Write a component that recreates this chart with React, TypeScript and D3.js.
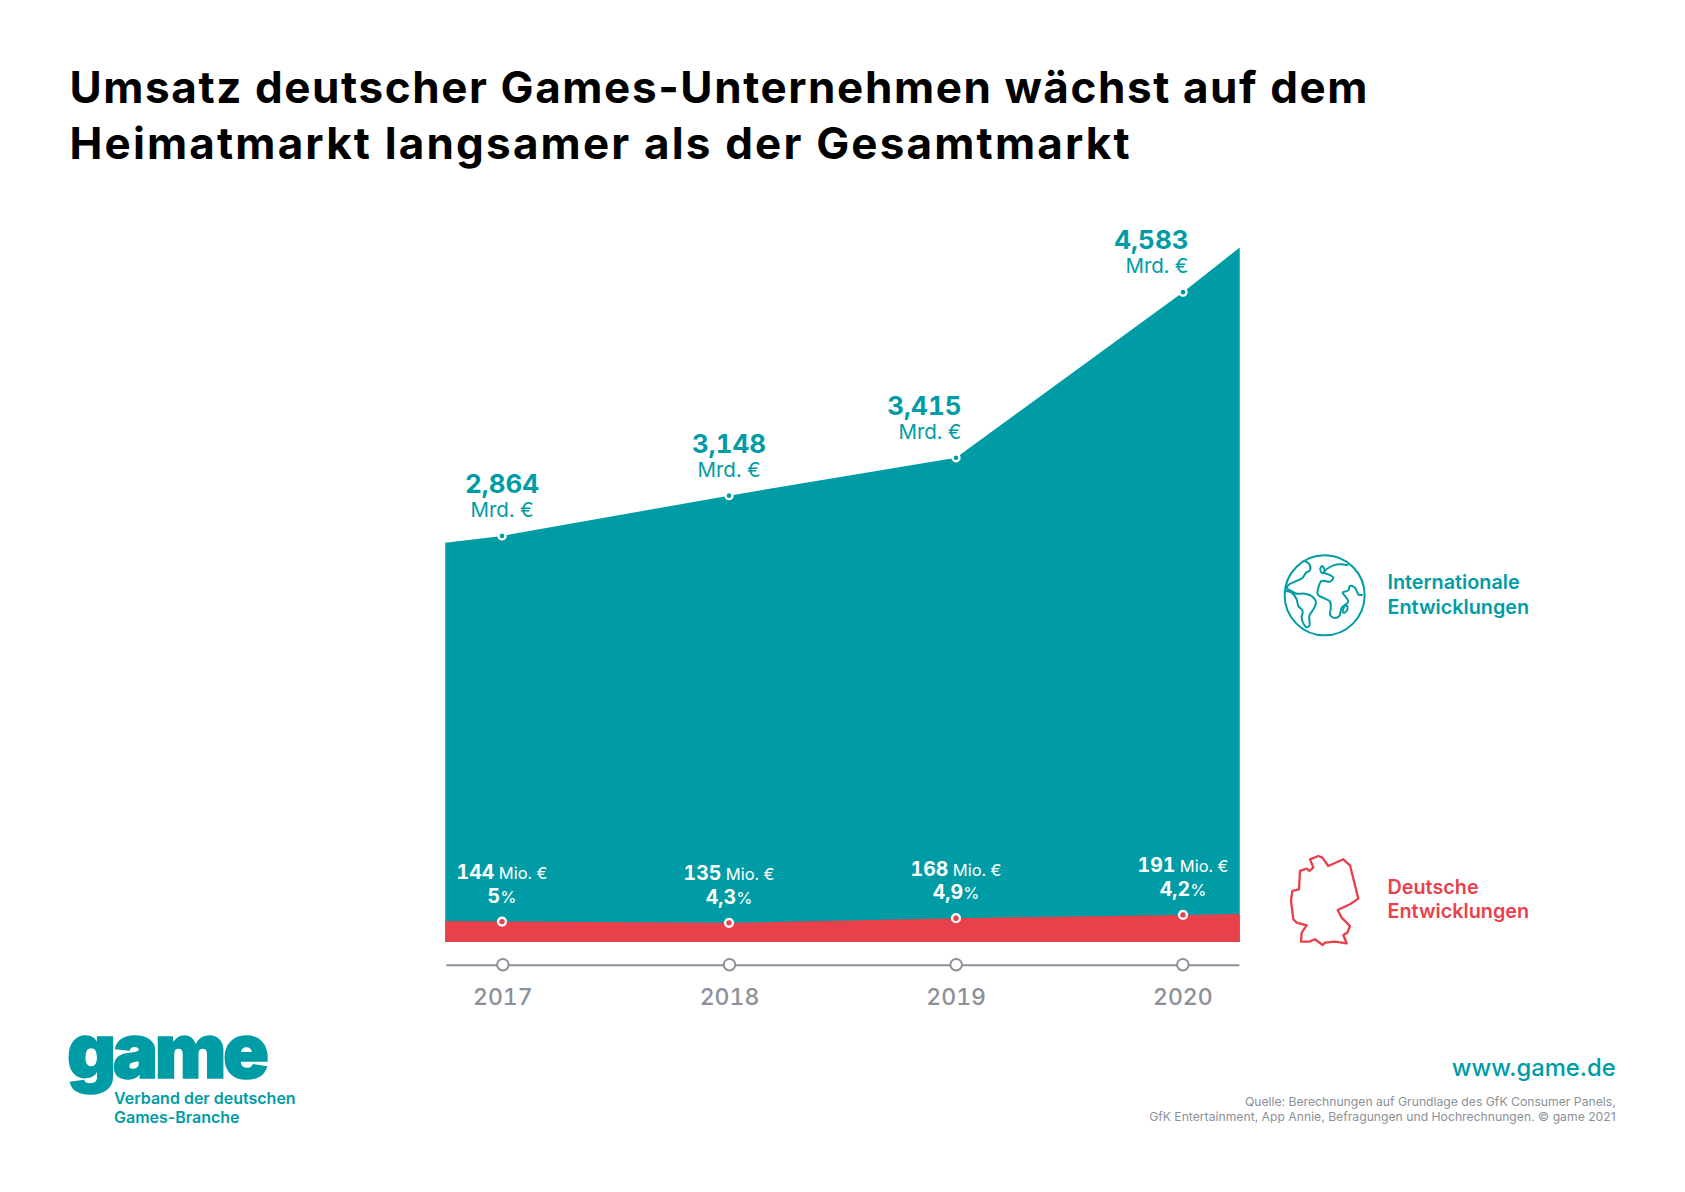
import { useRef, useEffect } from "react";
import * as d3 from "d3";

const years = [2017, 2018, 2019, 2020];
const totalMrd = [2.864, 3.148, 3.415, 4.583];
const domesticMio = [144, 135, 168, 191];
const domesticShare = ["5", "4,3", "4,9", "4,2"];

// the areas run past the first and last year
const edgeYears = [2016.75, 2020.25];
const totalEdgeMrd = [2.816, 4.898];
const domesticEdgeMio = [148, 198];

const titleLines = [
    "Umsatz deutscher Games-Unternehmen wächst auf dem",
    "Heimatmarkt langsamer als der Gesamtmarkt",
];
const legendInternational = ["Internationale", "Entwicklungen"];
const legendGermany = ["Deutsche", "Entwicklungen"];
const logoLines = ["Verband der deutschen", "Games-Branche"];
const sourceLines = [
    "Quelle: Berechnungen auf Grundlage des GfK Consumer Panels,",
    "GfK Entertainment, App Annie, Befragungen und Hochrechnungen. © game 2021",
];

// icon outlines, traced at 3x
const globeCoasts: [number, number][][] = [
    [[160, 88], [178, 100], [180, 118], [168, 125], [158, 140], [135, 152], [118, 160], [110, 172], [120, 178], [140, 188], [165, 188], [185, 195], [198, 215], [190, 235], [178, 255], [178, 285], [168, 288], [155, 262], [158, 240], [145, 225], [140, 205], [125, 185], [107, 180]],
    [[295, 103], [265, 100], [240, 108], [222, 125], [235, 130], [250, 140], [240, 152], [215, 150], [205, 170], [203, 190], [218, 200], [240, 212], [242, 235], [240, 250], [250, 260], [268, 255], [275, 230], [295, 212], [285, 195], [278, 185], [295, 178], [300, 165], [315, 170], [325, 190], [338, 192]],
    [[210, 115], [216, 105], [224, 118], [217, 127], [210, 115]],
    [[278, 240], [285, 225], [292, 225], [290, 240], [280, 245], [278, 240]],
];
const germanyOutline: [number, number][] = [
    [180, 985], [205, 975], [217, 980], [235, 1005], [280, 985], [300, 1003], [325, 1103], [300, 1120], [263, 1137], [275, 1160], [300, 1185], [292, 1205], [280, 1212], [290, 1237], [255, 1232], [225, 1235], [218, 1242], [195, 1225], [178, 1232], [153, 1232], [155, 1205], [170, 1183], [140, 1175], [130, 1165], [123, 1110], [127, 1080], [147, 1075], [150, 1020], [170, 1013], [178, 1020], [190, 1010],
];

const TEAL = "#009ca6";
const RED = "#e8414b";
const GREY = "#8b9099";
const FONT = "Inter, sans-serif";

export default function App() {
    const svgRef = useRef<SVGSVGElement>(null);

    useEffect(() => {
        if (!svgRef.current) return;

        const svg = d3.select(svgRef.current);
        svg.selectAll("*").remove();
        svg.attr("font-family", FONT);

        const x = d3.scaleLinear().domain([2017, 2020]).range([502, 1183]);
        const y = d3.scaleLinear().domain([0, 4.9]).range([942, 247.2]);

        const totalSeries: [number, number][] = [
            [edgeYears[0], totalEdgeMrd[0]],
            ...years.map((yr, i): [number, number] => [yr, totalMrd[i]]),
            [edgeYears[1], totalEdgeMrd[1]],
        ];
        const domesticSeries: [number, number][] = [
            [edgeYears[0], domesticEdgeMio[0] / 1000],
            ...years.map((yr, i): [number, number] => [yr, domesticMio[i] / 1000]),
            [edgeYears[1], domesticEdgeMio[1] / 1000],
        ];
        const area = d3
            .area<[number, number]>()
            .x((d) => x(d[0]))
            .y0(y(0))
            .y1((d) => y(d[1]));

        svg.append("path").attr("d", area(totalSeries)).attr("fill", TEAL);
        svg.append("path").attr("d", area(domesticSeries)).attr("fill", RED);

        // title
        svg.selectAll(".title")
            .data(titleLines)
            .enter()
            .append("text")
            .attr("class", "title")
            .attr("x", 69.5)
            .attr("y", (_, i) => 102.7 + i * 56.6)
            .attr("font-size", 44)
            .attr("font-weight", 700)
            .attr("fill", "#000")
            .attr("textLength", (_, i) => (i === 0 ? 1298 : 1060))
            .text((d) => d);

        // axis
        const axis = svg
            .append("g")
            .attr("transform", "translate(0,964.7)")
            .call(
                d3
                    .axisBottom(x.copy().domain(edgeYears).range([445.7, 1239]))
                    .tickValues(years)
                    .tickFormat(d3.format("d"))
                    .tickSize(0)
                    .tickPadding(24),
            );
        axis.select(".domain").attr("stroke", GREY).attr("stroke-width", 2);
        axis.selectAll(".tick text")
            .attr("font-family", FONT)
            .attr("font-size", 23)
            .attr("font-weight", 500)
            .attr("fill", GREY)
            .style("font-variant-numeric", "tabular-nums");
        axis.selectAll(".tick")
            .append("circle")
            .attr("r", 5.8)
            .attr("fill", "#fff")
            .attr("stroke", GREY)
            .attr("stroke-width", 2);

        // dots
        const dots = (vals: number[], color: string, rad: number) =>
            svg
                .append("g")
                .selectAll("circle")
                .data(vals)
                .enter()
                .append("circle")
                .attr("cx", (_, i) => x(years[i]))
                .attr("cy", (d) => y(d))
                .attr("r", rad)
                .attr("fill", color)
                .attr("stroke", "#fff")
                .attr("stroke-width", 2.4);
        dots(totalMrd, TEAL, 3.5);
        dots(domesticMio.map((d) => d / 1000), RED, 3.9);

        // total labels, the last two are pulled left of their dots
        const labelX = (i: number) => x(years[i]) + (i >= 2 ? 5.5 : 0);
        const labelAnchor = (i: number) => (i >= 2 ? "end" : "middle");
        const totals = svg
            .append("g")
            .attr("fill", TEAL)
            .style("font-variant-numeric", "tabular-nums");
        totalMrd.forEach((v, i) => {
            totals
                .append("text")
                .attr("x", labelX(i))
                .attr("y", y(v) - 43)
                .attr("text-anchor", labelAnchor(i))
                .attr("font-size", 26)
                .attr("font-weight", 700)
                .text(v.toFixed(3).replace(".", ","));
            totals
                .append("text")
                .attr("x", labelX(i))
                .attr("y", y(v) - 19)
                .attr("text-anchor", labelAnchor(i))
                .attr("font-size", 20.5)
                .text("Mrd. €");
        });

        // domestic labels
        const inner = svg
            .append("g")
            .attr("fill", "#fff")
            .attr("text-anchor", "middle")
            .style("font-variant-numeric", "tabular-nums");
        domesticMio.forEach((v, i) => {
            const yy = y(v / 1000);
            const top = inner
                .append("text")
                .attr("x", x(years[i]))
                .attr("y", yy - 42.5)
                .attr("font-size", 16.5);
            top.append("tspan").attr("font-size", 19.5).attr("font-weight", 700).text(v);
            top.append("tspan").text(" Mio. €");
            const bottom = inner
                .append("text")
                .attr("x", x(years[i]))
                .attr("y", yy - 19)
                .attr("font-size", 16.5);
            bottom
                .append("tspan")
                .attr("font-size", 19.5)
                .attr("font-weight", 700)
                .text(domesticShare[i]);
            bottom.append("tspan").text("%");
        });

        // legend
        const legend = (lines: string[], top: number, color: string) =>
            lines.forEach((line, i) => {
                svg.append("text")
                    .attr("x", 1387.5)
                    .attr("y", top + i * 24.2)
                    .attr("font-size", 19.8)
                    .attr("font-weight", 600)
                    .attr("fill", color)
                    .text(line);
            });
        legend(legendInternational, 589.3, TEAL);
        legend(legendGermany, 894, RED);

        const icon = (color: string) =>
            svg
                .append("g")
                .attr("transform", "translate(1250,531) scale(0.3333)")
                .attr("fill", "none")
                .attr("stroke", color)
                .attr("stroke-width", 6)
                .attr("stroke-linejoin", "round");
        const globe = icon(TEAL);
        globe.append("circle").attr("cx", 224).attr("cy", 193).attr("r", 120);
        const coast = d3.line().curve(d3.curveCatmullRom);
        globeCoasts.forEach((c) => globe.append("path").attr("d", coast(c)));
        icon(RED)
            .attr("stroke-width", 7)
            .append("path")
            .attr("d", d3.line().curve(d3.curveLinearClosed)(germanyOutline));

        // logo
        svg.append("text")
            .attr("x", 67)
            .attr("y", 1078)
            .attr("font-size", 76)
            .attr("font-weight", 900)
            .attr("fill", TEAL)
            .attr("stroke", TEAL)
            .attr("stroke-width", 1.5)
            .attr("textLength", 202)
            .text("game");
        logoLines.forEach((line, i) => {
            svg.append("text")
                .attr("x", 114)
                .attr("y", 1104 + i * 19.3)
                .attr("font-size", 16)
                .attr("font-weight", 600)
                .attr("fill", TEAL)
                .text(line);
        });

        // footer
        svg.append("text")
            .attr("x", 1615.7)
            .attr("y", 1076)
            .attr("text-anchor", "end")
            .attr("font-size", 23.8)
            .attr("font-weight", 500)
            .attr("fill", TEAL)
            .text("www.game.de");
        sourceLines.forEach((line, i) => {
            svg.append("text")
                .attr("x", 1615.7)
                .attr("y", 1106 + i * 14.8)
                .attr("text-anchor", "end")
                .attr("font-size", 12.2)
                .attr("fill", GREY)
                .text(line);
        });
    }, []);

    return (
        <svg
            ref={svgRef}
            width={1685}
            height={1192}
            viewBox="0 0 1685 1192"
            style={{ position: "absolute", left: 0, top: 0, background: "#fff" }}
        />
    );
}
